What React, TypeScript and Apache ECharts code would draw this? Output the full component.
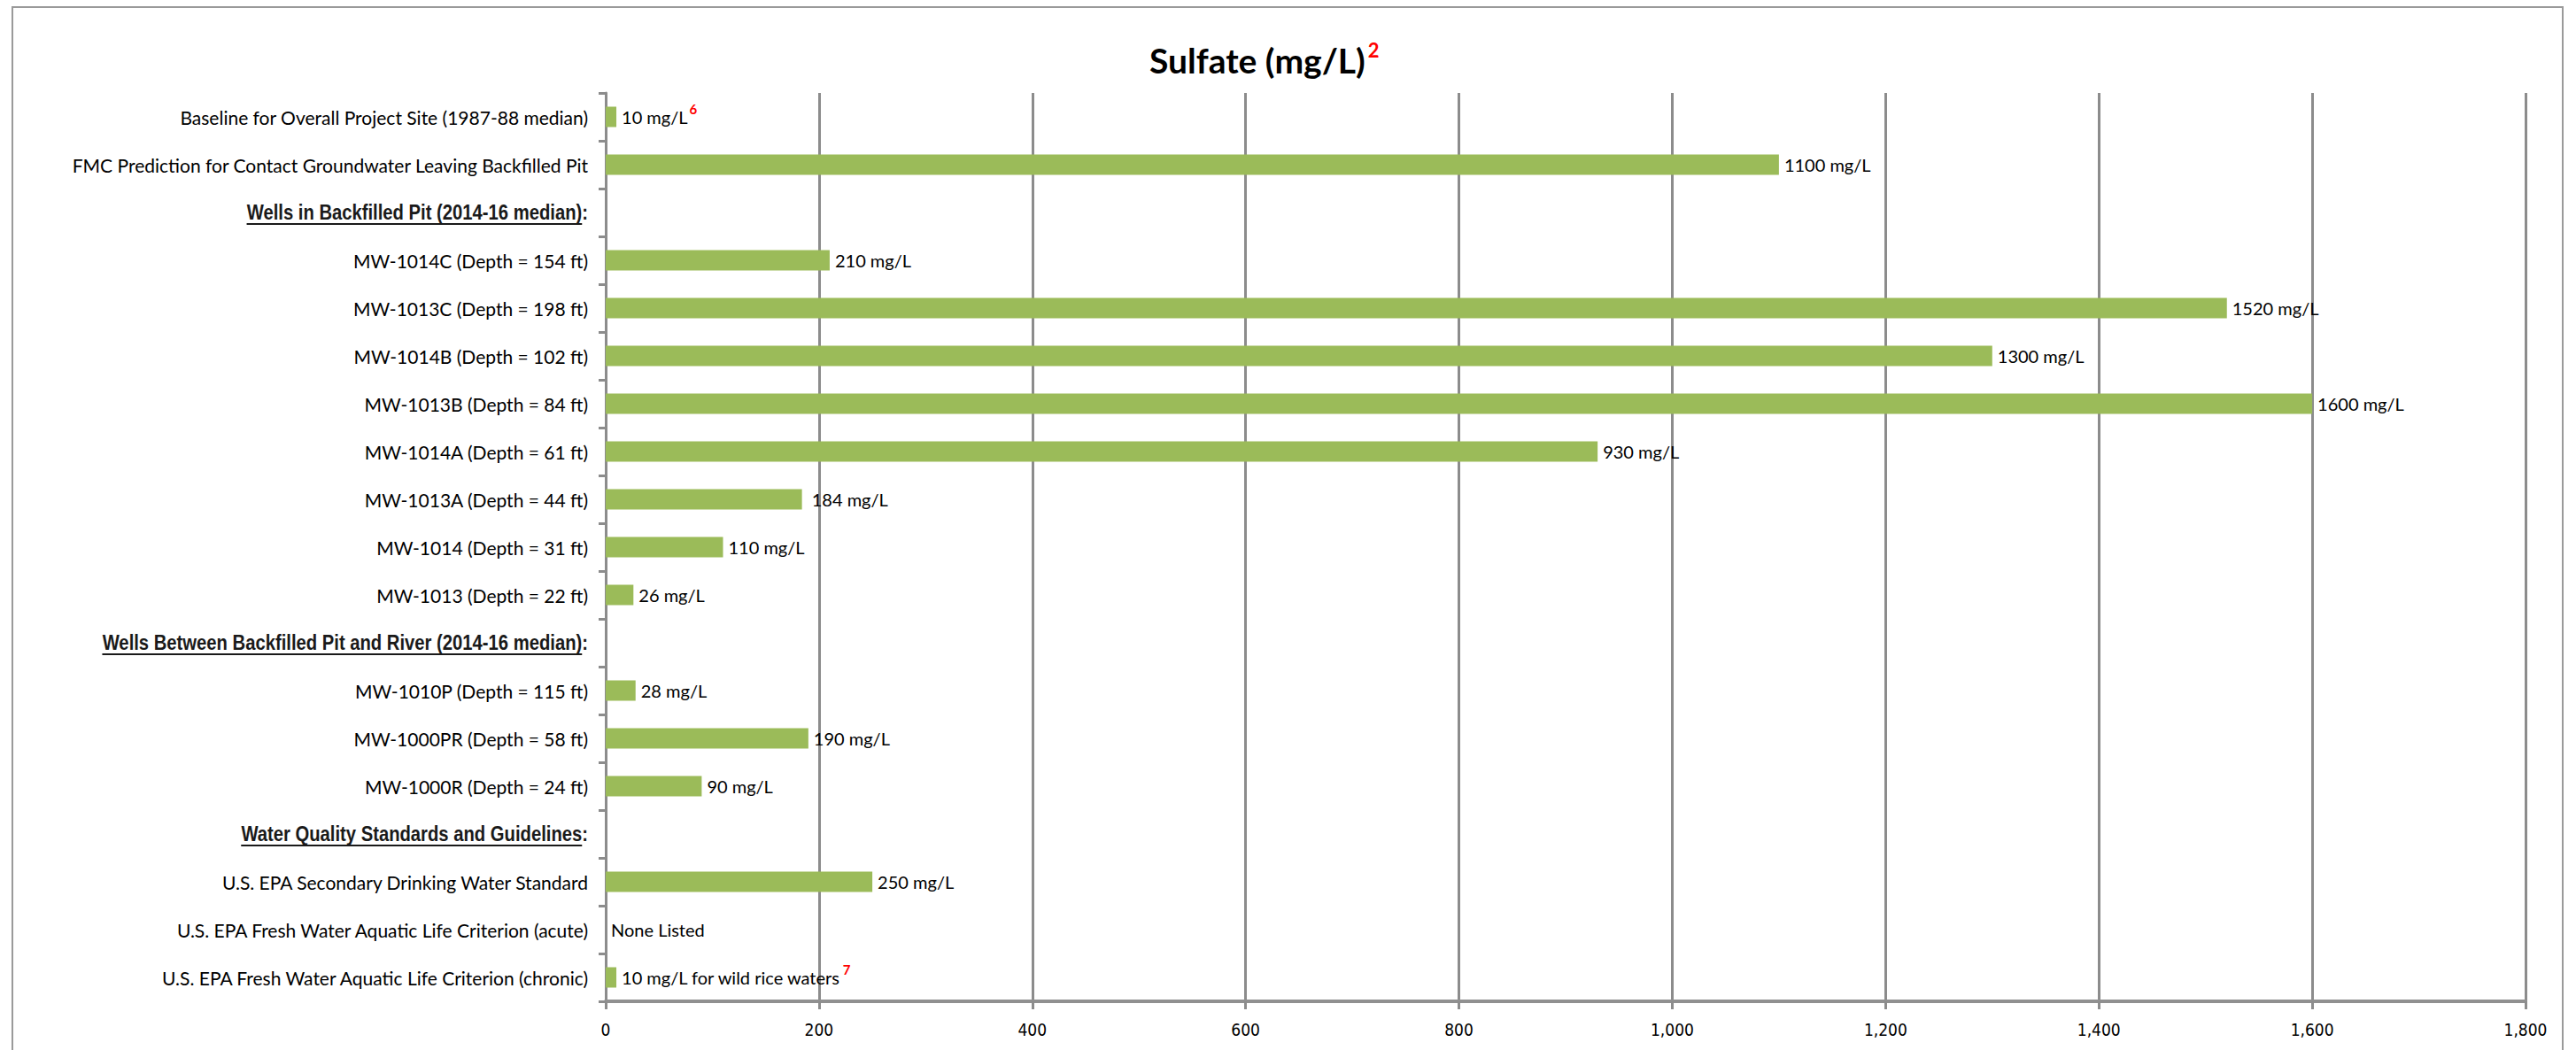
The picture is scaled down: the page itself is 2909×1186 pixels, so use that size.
import React, { useEffect, useRef } from "react";
import * as echarts from "echarts";

const categories = [
  "Baseline for Overall Project Site (1987-88 median)",
  "FMC Prediction for Contact Groundwater Leaving Backfilled Pit",
  "Wells in Backfilled Pit (2014-16 median):",
  "MW-1014C (Depth = 154 ft)",
  "MW-1013C (Depth = 198 ft)",
  "MW-1014B (Depth = 102 ft)",
  "MW-1013B (Depth = 84 ft)",
  "MW-1014A (Depth = 61 ft)",
  "MW-1013A (Depth = 44 ft)",
  "MW-1014 (Depth = 31 ft)",
  "MW-1013 (Depth = 22 ft)",
  "Wells Between Backfilled Pit and River (2014-16 median):",
  "MW-1010P (Depth = 115 ft)",
  "MW-1000PR (Depth = 58 ft)",
  "MW-1000R (Depth = 24 ft)",
  "Water Quality Standards and Guidelines:",
  "U.S. EPA Secondary Drinking Water Standard",
  "U.S. EPA Fresh Water Aquatic Life Criterion (acute)",
  "U.S. EPA Fresh Water Aquatic Life Criterion (chronic)",
];

const values: (number | null)[] = [
  10, 1100, null, 210, 1520, 1300, 1600, 930, 184, 110, 26, null, 28, 190, 90, null, 250, 0, 10,
];

const valueLabels = [
  "10 mg/L{sup|6}",
  "1100 mg/L",
  "",
  "210 mg/L",
  "1520 mg/L",
  "1300 mg/L",
  "1600 mg/L",
  "930 mg/L",
  " 184 mg/L",
  "110 mg/L",
  "26 mg/L",
  "",
  "28 mg/L",
  "190 mg/L",
  "90 mg/L",
  "",
  "250 mg/L",
  "None Listed",
  "10 mg/L for wild rice waters{sup|7}",
];

const headerRows = [2, 11, 15];

const xMin = 0;
const xMax = 1800;
const xStep = 200;

const BAR_GREEN = "#9BBB59";
const GRID_GRAY = "#8C8C8C";
const LABEL_FONT = "Lato, 'Open Sans', sans-serif";
const HEADER_FONT = "'Liberation Sans', Arial, sans-serif";
const HEADER_SIZE = 23;
const HEADER_SCALE = 0.88;
const LABEL_MARGIN = 20;

export default function App() {
  const ref = useRef<HTMLDivElement>(null);

  useEffect(() => {
    if (!ref.current) return;
    const chart = echarts.init(ref.current, null, { renderer: "svg" });
    const gridLeft = 684;
    const option: any = {
      animation: false,
      backgroundColor: "#ffffff",
      title: {
        text: "{a|Sulfate (mg/L)}{b|2}",
        left: 1293,
        top: 40,
        textStyle: {
          rich: {
            a: { fontFamily: LABEL_FONT, fontWeight: "bold", fontSize: 39, color: "#000", lineHeight: 46 },
            b: {
              fontFamily: LABEL_FONT,
              fontWeight: "bold",
              fontSize: 22,
              color: "#FF0000",
              padding: [0, 0, 24, 3],
            },
          },
        },
      },
      grid: { left: gridLeft, right: 57, top: 105, bottom: 55, containLabel: false },
      xAxis: {
        type: "value",
        min: xMin,
        max: xMax,
        interval: xStep,
        axisLine: { show: true, lineStyle: { color: "#909090", width: 4 } },
        axisTick: { show: true, length: 9, lineStyle: { color: GRID_GRAY, width: 3 } },
        splitLine: { show: true, lineStyle: { color: GRID_GRAY, width: 3 } },
        axisLabel: {
          margin: 22,
          fontFamily: "'DejaVu Sans Condensed', 'DejaVu Sans', sans-serif",
          fontSize: 19,
          color: "#000",
          formatter: (v: number) => v.toLocaleString("en-US"),
        },
      },
      yAxis: {
        type: "category",
        data: categories,
        inverse: true,
        axisLine: { show: true, lineStyle: { color: GRID_GRAY, width: 3 } },
        axisTick: { show: true, length: 8, lineStyle: { color: GRID_GRAY, width: 3 } },
        splitLine: { show: false },
        axisLabel: {
          margin: LABEL_MARGIN,
          fontFamily: LABEL_FONT,
          fontSize: 21,
          color: "#000",
          formatter: (v: string, idx: number) => (headerRows.includes(idx) ? "" : v),
        },
      },
      series: [
        {
          type: "bar",
          data: values,
          barWidth: 23,
          itemStyle: { color: BAR_GREEN },
          label: {
            show: true,
            position: "right",
            distance: 6,
            fontFamily: LABEL_FONT,
            fontSize: 20,
            color: "#000",
            formatter: (p: any) => valueLabels[p.dataIndex] || "",
            rich: {
              sup: {
                fontFamily: LABEL_FONT,
                fontWeight: "bold",
                fontSize: 15,
                color: "#FF0000",
                padding: [0, 0, 18, 2],
              },
            },
          },
        },
      ],
    };
    chart.setOption(option);

    // header rows (condensed bold, underlined) and outer chart frame
    const canvas = document.createElement("canvas");
    const ctx = canvas.getContext("2d")!;
    ctx.font = `bold ${HEADER_SIZE}px ${HEADER_FONT}`;
    const graphics: any[] = [
      {
        type: "rect",
        shape: { x: 14, y: 8, width: 2880, height: 1200 },
        style: { fill: "none", stroke: "#9a9a9a", lineWidth: 2 },
        silent: true,
        z: -1,
      },
    ];
    const right = gridLeft - LABEL_MARGIN;
    headerRows.forEach((i) => {
      const y = chart.convertToPixel({ yAxisIndex: 0 }, categories[i]) as number;
      const w = ctx.measureText(categories[i]).width * HEADER_SCALE;
      const colonW = ctx.measureText(":").width * HEADER_SCALE;
      graphics.push({
        type: "text",
        x: right,
        y: y,
        scaleX: HEADER_SCALE,
        silent: true,
        style: {
          text: categories[i],
          font: `bold ${HEADER_SIZE}px ${HEADER_FONT}`,
          fill: "#1a1a1a",
          align: "right",
          verticalAlign: "middle",
        },
      });
      graphics.push({
        type: "line",
        shape: { x1: right - w, y1: y + 13, x2: right - colonW, y2: y + 13 },
        style: { stroke: "#1a1a1a", lineWidth: 2 },
        silent: true,
      });
    });
    chart.setOption({ graphic: graphics });

    return () => chart.dispose();
  }, []);

  return (
    <div
      ref={ref}
      style={{ position: "fixed", left: 0, top: 0, width: 2909, height: 1186 }}
    />
  );
}
